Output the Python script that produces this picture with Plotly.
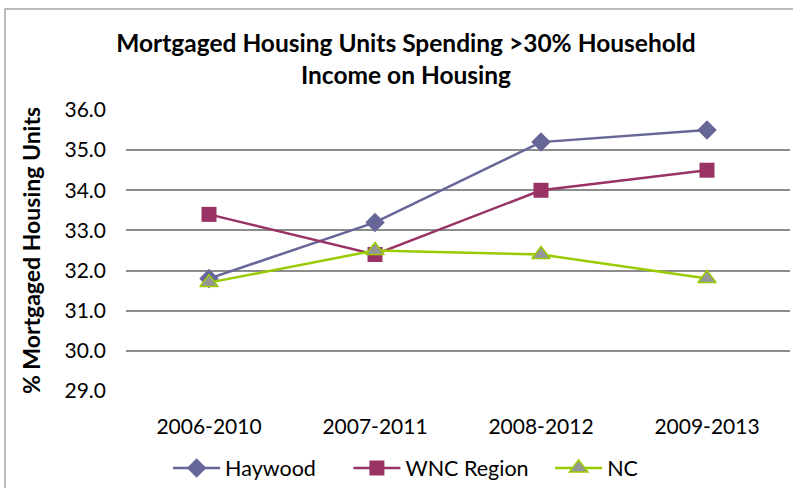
import plotly.graph_objects as go

categories = ["2006-2010", "2007-2011", "2008-2012", "2009-2013"]
haywood = [31.8, 33.2, 35.2, 35.5]
wnc_region = [33.4, 32.4, 34.0, 34.5]
nc = [31.7, 32.5, 32.4, 31.8]
y_ticks = [29.0, 30.0, 31.0, 32.0, 33.0, 34.0, 35.0, 36.0]
series_names = ["Haywood", "WNC Region", "NC"]

FONT = "Lato"

fig = go.Figure()
fig.add_trace(go.Scatter(
    x=categories, y=haywood, name=series_names[0] + "\u00a0" * 5, mode="lines+markers",
    line=dict(color="#666699", width=2.5),
    marker=dict(symbol="diamond", size=15, color="#666699"),
))
fig.add_trace(go.Scatter(
    x=categories, y=wnc_region, name=series_names[1] + "\u00a0" * 3, mode="lines+markers",
    line=dict(color="#993366", width=2.5),
    marker=dict(symbol="square", size=15, color="#993366"),
))
fig.add_trace(go.Scatter(
    x=categories, y=nc, name=series_names[2], mode="lines+markers",
    line=dict(color="#99CC00", width=2.5),
    marker=dict(symbol="triangle-up", size=16, color="#969696",
                line=dict(color="#99CC00", width=1.5)),
))

fig.update_layout(
    width=793, height=488,
    margin=dict(l=126, r=3, t=110, b=97),
    paper_bgcolor="white", plot_bgcolor="white",
    font=dict(family=FONT, color="#000000", size=21),
    title=dict(
        text="<b>Mortgaged Housing Units Spending >30% Household<br>Income on Housing</b>",
        x=0.512, xanchor="center", xref="container", y=0.894, yanchor="middle",
        yref="container",
        font=dict(family=FONT, size=24.5, color="#000000"),
    ),
    showlegend=True,
    legend=dict(orientation="h", xref="container", yref="container",
                x=0.212, xanchor="left", y=0.041, yanchor="middle",
                font=dict(family=FONT, size=21.5), itemwidth=47, traceorder="normal"),
    xaxis=dict(
        type="category", range=[-0.5, 3.5], showgrid=False, zeroline=False,
        showline=False, ticks="", tickfont=dict(size=21), ticklabelstandoff=21,
    ),
    yaxis=dict(
        range=[29, 36], tickvals=y_ticks, ticktext=[f"{v:.1f}" for v in y_ticks],
        showgrid=True, gridcolor="#8c8c8c", gridwidth=1.5, zeroline=False,
        showline=False, ticks="", tickfont=dict(size=21), ticklabelstandoff=19,
        title=dict(text="<b>% Mortgaged Housing Units</b>", font=dict(size=23), standoff=17),
    ),
    shapes=[dict(type="rect", xref="paper", yref="paper",
                 x0=-0.1822, x1=1.2, y0=-0.6, y1=1.359,
                 line=dict(color="#a6a6a6", width=1.5), fillcolor="rgba(0,0,0,0)", layer="below")],
)

fig.write_html("out.html", config={"displayModeBar": False},
               post_script="document.body.style.margin='0';")
